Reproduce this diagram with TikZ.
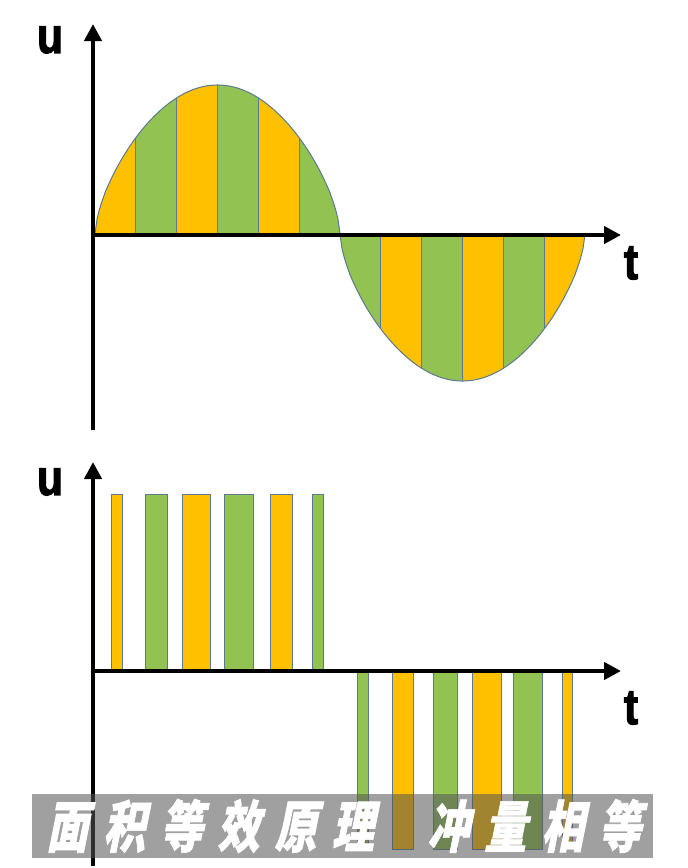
\documentclass[tikz,border=0pt]{standalone}
\usepackage{fontspec}
\usetikzlibrary{arrows.meta}
\newfontfamily\labfont[FakeBold=2.5]{Liberation Sans}
\newfontfamily\cjkfont[FakeSlant=0.2,FakeStretch=0.75,LetterSpace=27,FakeBold=1.2]{Noto Sans CJK SC}
\definecolor{orng}{HTML}{FFC000}
\definecolor{grn}{HTML}{92C352}
\definecolor{edge}{HTML}{5A7A90}
\definecolor{bann}{HTML}{565656}
\tikzset{
  declare function={hs(\t)=pow(max(sin(\t),0.00001),0.63);},
  axis/.style={line width=4.2pt,-{Triangle[length=17pt,width=17pt]}},
  axlab/.style={font=\labfont\bfseries\fontsize{50}{50}\selectfont,xscale=0.85,inner sep=0pt},
  stripe/.style={draw=edge,line width=1pt},
  pulse/.style={draw=edge,line width=0.9pt},
  cjk/.style={text=white,font=\cjkfont\bfseries\fontsize{56}{56}\selectfont,inner sep=0pt}
}
\begin{document}
\begin{tikzpicture}[x=1pt,y=-1pt]
\useasboundingbox (0,0) rectangle (688,868);
% ---------- top: sine-like curve with stripes ----------
\foreach \i in {0,...,5}{
  \pgfmathsetmacro{\xa}{95+\i*245/6}
  \pgfmathsetmacro{\xb}{95+(\i+1)*245/6}
  \ifodd\i \def\col{grn}\def\colb{orng}\else\def\col{orng}\def\colb{grn}\fi
  \fill[fill=\col] (\xa,234) -- plot[domain=\xa:\xb,samples=30] (\x,{234-149*hs((\x-95)/245*180)}) -- (\xb,234) -- cycle;
  \pgfmathsetmacro{\xc}{340+\i*245/6}
  \pgfmathsetmacro{\xd}{340+(\i+1)*245/6}
  \fill[fill=\colb] (\xc,234) -- plot[domain=\xc:\xd,samples=30] (\x,{234+147*hs((\x-340)/245*180)}) -- (\xd,234) -- cycle;
}
\foreach \i in {1,...,5}{
  \pgfmathsetmacro{\xa}{95+\i*245/6}
  \pgfmathsetmacro{\ya}{234-149*hs((\xa-95)/245*180)}
  \draw[stripe] (\xa,234) -- (\xa,\ya);
  \pgfmathsetmacro{\xc}{340+\i*245/6}
  \pgfmathsetmacro{\yc}{234+147*hs((\xc-340)/245*180)}
  \draw[stripe] (\xc,234) -- (\xc,\yc);
}
\draw[stripe] plot[domain=95:340,samples=120] (\x,{234-149*hs((\x-95)/245*180)});
\draw[stripe] plot[domain=340:585,samples=120] (\x,{234+147*hs((\x-340)/245*180)});
% top axes
\coordinate (o1) at (93,235);
\coordinate (y1b) at (93,430);
\coordinate (y1t) at (93,24);
\coordinate (x1t) at (621,235);
\draw[axis] (y1b) -- (y1t);
\draw[axis] (o1) -- (x1t);
\node[axlab] (u1) at (50,40) {u};
\node[axlab] (t1) at (631,263) {t};
% ---------- bottom: pulses ----------
\foreach \a/\b/\c in {111/122/orng,145/167/grn,182/210/orng,224/253/grn,270/292/orng,312/323/grn}{
  \filldraw[pulse,fill=\c] (\a,671) rectangle (\b,494);
}
\foreach \a/\b/\c in {357/368/grn,392/413/orng,433/457/grn,472/501/orng,513/542/grn,562/572/orng}{
  \filldraw[pulse,fill=\c] (\a,671) rectangle (\b,849);
}
\coordinate (o2) at (93,671);
\coordinate (y2b) at (93,866);
\coordinate (y2t) at (93,462);
\coordinate (x2t) at (621,671);
\draw[axis] (y2b) -- (y2t);
\draw[axis] (o2) -- (x2t);
\node[axlab] (u2) at (50,482) {u};
\node[axlab] (t2) at (631,708) {t};
% ---------- banner ----------
\fill[bann,opacity=0.56] (32,794) rectangle (653,858);
\node[cjk] (cap1) at (210,826) {面积等效原理};
\node[cjk] (cap2) at (534,826) {冲量相等};
\end{tikzpicture}
\end{document}
